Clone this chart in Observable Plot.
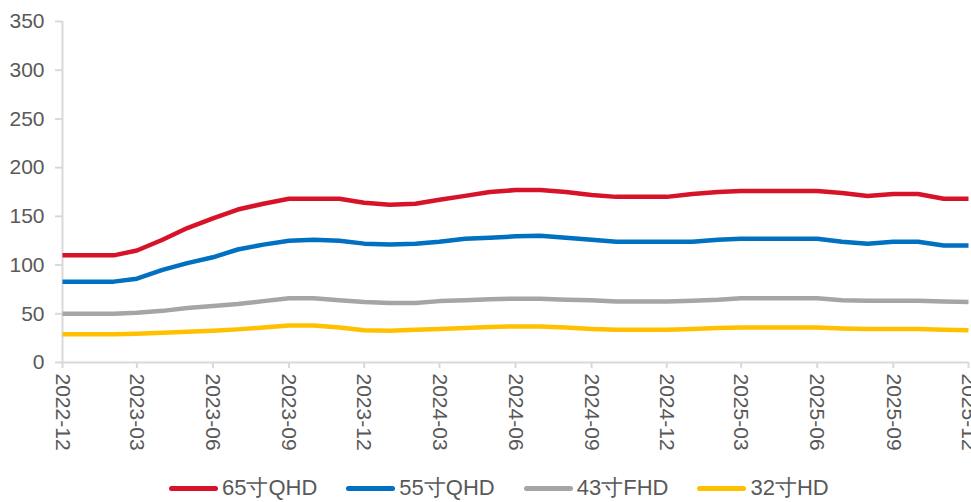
<!DOCTYPE html>
<html>
<head>
<meta charset="utf-8">
<script src="https://cdn.jsdelivr.net/npm/d3@7"></script>
<script src="https://cdn.jsdelivr.net/npm/@observablehq/plot@0.6"></script>
<style>
  html, body { margin: 0; padding: 0; background: #fff; }
  body { width: 971px; height: 502px; overflow: hidden; font-family: "Liberation Sans", Arial, sans-serif; }
  #legend { position: relative; height: 26px; line-height: 26px; margin-top: 3px; display: flex; align-items: center; padding-left: 169px; gap: 29px; color: #595959; font-size: 22px; }
  .item { display: flex; align-items: center; white-space: nowrap; }
  .sw { width: 49px; height: 5px; border-radius: 3px; margin-right: 4px; }
</style>
</head>
<body>
<div id="chart"></div>
<div id="legend"></div>
<script>
const months = ["2022-12","2023-01","2023-02","2023-03","2023-04","2023-05","2023-06","2023-07","2023-08","2023-09","2023-10","2023-11","2023-12",
  "2024-01","2024-02","2024-03","2024-04","2024-05","2024-06","2024-07","2024-08","2024-09","2024-10","2024-11","2024-12",
  "2025-01","2025-02","2025-03","2025-04","2025-05","2025-06","2025-07","2025-08","2025-09","2025-10","2025-11","2025-12"];
const s65 = [110,110,110,115,126,138,148,157,163,168,168,168,164,162,163,167,171,175,177,177,175,172,170,170,170,173,175,176,176,176,176,174,171,173,173,168,168];
const s55 = [83,83,83,86,95,102,108,116,121,125,126,125,122,121,122,124,127,128,129.5,130,128,126,124,124,124,124,126,127,127,127,127,124,122,124,124,120,120];
const s43 = [50,50,50,51,53,56,58,60,63,66,66,64,62,61,61,63,64,65,65.5,65.5,64.5,64,62.5,62.5,62.5,63.5,64.5,66,66,66,66,64,63.5,63.5,63.5,62.5,62];
const s32 = [29,29,29,29.5,30.5,31.5,32.5,34,36,38,38,36,33,32.5,33.5,34.5,35.5,36.5,37,37,36,34.5,33.5,33.5,33.5,34.5,35.5,36,36,36,36,35,34.5,34.5,34.5,33.5,33];
const seriesNames = ["65寸QHD","55寸QHD","43寸FHD","32寸HD"];
const seriesColors = ["#d7132a","#0070c0","#a5a5a5","#ffc000"];
const yTicks = [0,50,100,150,200,250,300,350];

const parse = d3.utcParse("%Y-%m");
const allSeries = [s65, s55, s43, s32];
const data = [];
allSeries.forEach((arr, k) => arr.forEach((v, i) => data.push({date: parse(months[i]), value: v, series: seriesNames[k]})));
const xTicks = months.filter((m, i) => i % 3 === 0).map(parse);

const chart = Plot.plot({
  width: 971,
  height: 472,
  marginLeft: 62,
  marginRight: 3,
  marginTop: 21,
  marginBottom: 110,
  style: {fontFamily: "'Liberation Sans', Arial, sans-serif", fontSize: "21px", color: "#595959", background: "#fff"},
  x: {type: "utc", domain: [parse("2022-12"), parse("2025-12")]},
  y: {domain: [0, 350]},
  color: {domain: seriesNames, range: seriesColors},
  marks: [
    Plot.ruleX([parse("2022-12")], {stroke: "#d9d9d9", strokeWidth: 2}),
    Plot.ruleY([0], {stroke: "#d9d9d9", strokeWidth: 2}),
    Plot.axisY({ticks: yTicks, tickSize: 7, tickPadding: 11, stroke: "#d9d9d9", strokeWidth: 2, strokeOpacity: 1, fill: "#595959", label: null}),
    Plot.axisX({ticks: xTicks, tickFormat: d3.utcFormat("%Y-%m"), tickRotate: 90, tickSize: 6, tickPadding: 5, stroke: "#d9d9d9", strokeWidth: 2, strokeOpacity: 1, fill: "#595959", label: null}),
    Plot.lineY(data, {x: "date", y: "value", z: "series", stroke: "series", strokeWidth: 4.5, strokeLinejoin: "round", strokeLinecap: "butt"})
  ]
});
document.getElementById("chart").appendChild(chart);

const legend = document.getElementById("legend");
seriesNames.forEach((n, k) => {
  const it = document.createElement("div");
  it.className = "item";
  const sw = document.createElement("span");
  sw.className = "sw";
  sw.style.background = seriesColors[k];
  const t = document.createElement("span");
  t.textContent = n;
  it.appendChild(sw); it.appendChild(t);
  legend.appendChild(it);
});
</script>
</body>
</html>
